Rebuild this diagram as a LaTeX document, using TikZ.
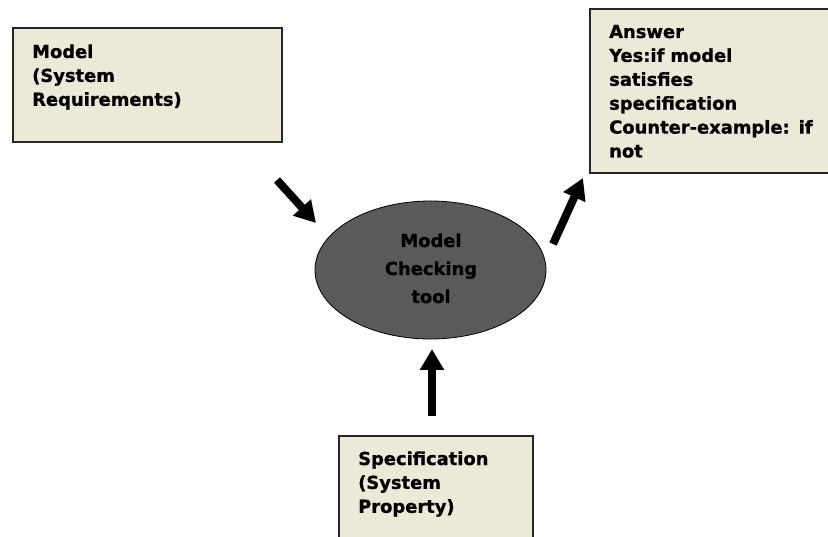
\documentclass[tikz,border=0pt]{standalone}
\usepackage{fontspec}
\setmainfont{DejaVu Sans}[BoldFeatures={FakeBold=1}]
\usetikzlibrary{arrows.meta,shapes.geometric}
\definecolor{boxfill}{HTML}{ECE9D8}
\definecolor{toolfill}{HTML}{5A5A5A}
\tikzset{
  boxshape/.style={draw=black!85, line width=1.6pt, fill=boxfill, rectangle, inner sep=0pt, anchor=north west},
  boxtext/.style={anchor=base west, inner sep=0pt, align=left, text width=240pt,
     font=\fontsize{17.9}{23.9}\selectfont\bfseries},
  tooltext/.style={anchor=base, inner sep=0pt, align=center, text width=150pt,
     font=\fontsize{17.9}{28}\selectfont\bfseries},
  fatarrow/.style={line width=8pt, -{Triangle[width=23pt,length=21pt]}}
}
\begin{document}
\begin{tikzpicture}[x=1pt,y=-1pt]
\useasboundingbox (0,0) rectangle (828,537);
\clip (0,0) rectangle (828,537);
% boxes
\node[boxshape, minimum width=269pt, minimum height=114pt] (model) at (12,27) {};
\node[boxshape, minimum width=250pt, minimum height=164pt] (answer) at (589,8) {};
\node[boxshape, minimum width=194pt, minimum height=130pt] (spec) at (338,435) {};
% texts
\node[boxtext] (modeltxt) at (32,58) {Model\\(System\\Requirements)};
\node[boxtext] (answertxt) at (609,38) {Answer\\Yes:if model\\satisfies\\specification\\Counter-example: if\\not};
\node[boxtext] (spectxt) at (358,465) {Specification\\(System\\Property)};
% tool
\node[ellipse, draw=black, line width=0.8pt, fill=toolfill, minimum width=231pt, minimum height=138pt, inner sep=0pt] (tool) at (430.5,270) {};
\node[tooltext] (tooltxt) at (431,247) {Model\\Checking\\tool};
% arrows
\coordinate (a1s) at (277,180); \coordinate (a1e) at (316,223);
\coordinate (a2s) at (553,244); \coordinate (a2e) at (583,178);
\coordinate (a3s) at (432,416); \coordinate (a3e) at (432,349);
\draw[fatarrow] (a1s) -- (a1e);
\draw[fatarrow] (a2s) -- (a2e);
\draw[fatarrow] (a3s) -- (a3e);
\end{tikzpicture}
\end{document}
